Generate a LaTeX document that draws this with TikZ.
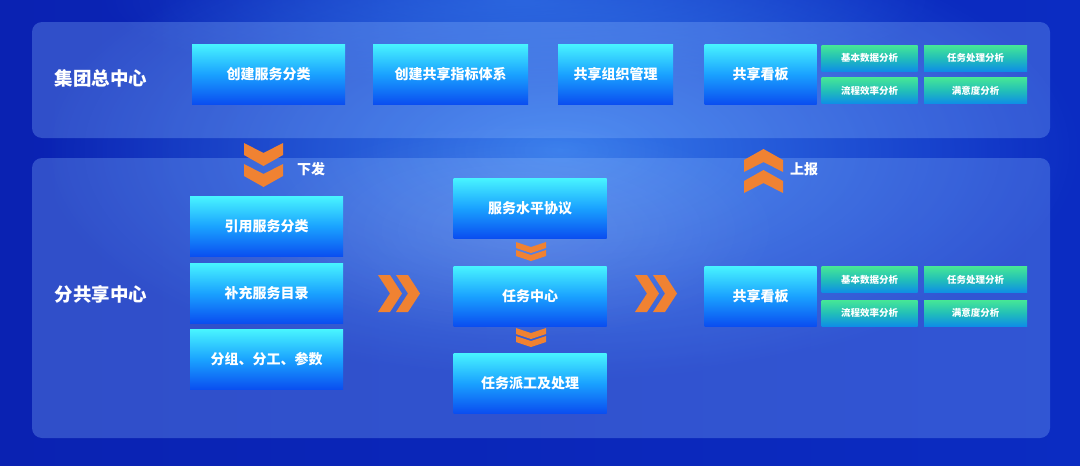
\documentclass[tikz,border=0pt]{standalone}
\usepackage{fontspec}
\newfontfamily\cjk{Noto Sans CJK SC}
\usetikzlibrary{fadings}
\tikzfading[name=myglow,inner color=transparent!0,outer color=transparent!100]
\definecolor{bgL}{HTML}{0A22B2}
\definecolor{bgR}{HTML}{0B2CC2}
\definecolor{glow}{HTML}{3C86F2}
\definecolor{panel}{HTML}{8AB8FF}
\definecolor{boxT}{HTML}{48F4FF}
\definecolor{boxM}{HTML}{1AA2FF}
\definecolor{boxB}{HTML}{0A4EF0}
\definecolor{grT}{HTML}{46E796}
\definecolor{grM}{HTML}{22BFB8}
\definecolor{grB}{HTML}{0E8EE6}
\definecolor{orng}{HTML}{F08232}
\begin{document}
\begin{tikzpicture}[x=1pt,y=-1pt,
  bluebox/.style={rectangle,top color=boxT,bottom color=boxB,middle color=boxM,
    text=white,font=\cjk\bfseries\fontsize{14}{16}\selectfont,inner sep=0pt},
  greenbox/.style={rectangle,top color=grT,bottom color=grB,middle color=grM,
    text=white,font=\cjk\bfseries\fontsize{9.5}{11}\selectfont,inner sep=0pt,
    minimum width=96pt,minimum height=26pt},
  sidelabel/.style={text=white,font=\cjk\bfseries\fontsize{18.5}{20}\selectfont},
  flowlabel/.style={text=white,font=\cjk\bfseries\fontsize{14}{16}\selectfont},
  chev/.style={fill=orng}]
\useasboundingbox (0,0) rectangle (1080,466);
% background
\shade[left color=bgL,right color=bgR] (0,0) rectangle (1080,466);
\fill[glow,path fading=myglow,opacity=0.9] (560,150) ellipse (520pt and 230pt);
\fill[glow,path fading=myglow,opacity=0.5] (520,0) ellipse (420pt and 90pt);
% panels
\fill[panel,opacity=0.3,rounded corners=10pt] (32,22) rectangle (1050,138);
\fill[panel,opacity=0.3,rounded corners=10pt] (32,158) rectangle (1050,438);
\fill[white,path fading=myglow,opacity=0.12] (520,230) ellipse (260pt and 110pt);
% side labels
\node[sidelabel] (lab1) at (101,78) {集团总中心};
\node[sidelabel] (lab2) at (101,294) {分共享中心};
% top row
\node[bluebox,minimum width=153pt,minimum height=60pt] (t1) at (268.5,74) {创建服务分类};
\node[bluebox,minimum width=155pt,minimum height=60pt] (t2) at (450.5,74) {创建共享指标体系};
\node[bluebox,minimum width=115pt,minimum height=60pt] (t3) at (615.5,74) {共享组织管理};
\node[bluebox,minimum width=112pt,minimum height=60pt] (t4) at (760.5,74) {共享看板};
\node[greenbox] (g1) at (869.5,58) {基本数据分析};
\node[greenbox,minimum width=103pt] (g2) at (975.5,58) {任务处理分析};
\node[greenbox] (g3) at (869.5,90.5) {流程效率分析};
\node[greenbox,minimum width=103pt] (g4) at (975.5,90.5) {满意度分析};
% bottom left column
\node[bluebox,minimum width=153pt,minimum height=60pt] (b1) at (266.5,226.5) {引用服务分类};
\node[bluebox,minimum width=153pt,minimum height=60pt] (b2) at (266.5,293) {补充服务目录};
\node[bluebox,minimum width=153pt,minimum height=60pt] (b3) at (266.5,359.5) {分组、分工、参数};
% middle column
\node[bluebox,minimum width=153pt,minimum height=60pt] (m1) at (530,208) {服务水平协议};
\node[bluebox,minimum width=153pt,minimum height=60pt] (m2) at (530,296) {任务中心};
\node[bluebox,minimum width=153pt,minimum height=60pt] (m3) at (530,383) {任务派工及处理};
% right
\node[bluebox,minimum width=112pt,minimum height=60pt] (r1) at (760.5,296) {共享看板};
\node[greenbox] (h1) at (869.5,279.5) {基本数据分析};
\node[greenbox,minimum width=103pt] (h2) at (975.5,279.5) {任务处理分析};
\node[greenbox] (h3) at (869.5,313) {流程效率分析};
\node[greenbox,minimum width=103pt] (h4) at (975.5,313) {满意度分析};
% down chevrons (下发)
\foreach \dy in {0,21}{
  \fill[chev,shift={(244,143+\dy)}] (0,0) -- (19.5,10) -- (39,0) -- (39,12) -- (19.5,23) -- (0,12) -- cycle;}
\node[flowlabel] (xf) at (311,169) {下发};
% up chevrons (上报)
\foreach \dy in {0,21}{
  \fill[chev,shift={(744,170-\dy)}] (0,23) -- (19.5,13) -- (39,23) -- (39,11) -- (19.5,0) -- (0,11) -- cycle;}
\node[flowlabel] (sb) at (804,169) {上报};
% small down chevrons in the middle column
\foreach \y in {242,328}{
  \foreach \dy in {0,8}{
    \fill[chev,shift={(516,\y+\dy)}] (0,0) -- (15,5) -- (30,0) -- (30,6) -- (15,11) -- (0,6) -- cycle;}}
% right chevrons
\foreach \x in {378,635}{
  \foreach \dx in {0,18}{
    \fill[chev,shift={(\x+\dx,275)}] (0,0) -- (12,0) -- (24,18.5) -- (12,37) -- (0,37) -- (12,18.5) -- cycle;}}
\end{tikzpicture}
\end{document}
